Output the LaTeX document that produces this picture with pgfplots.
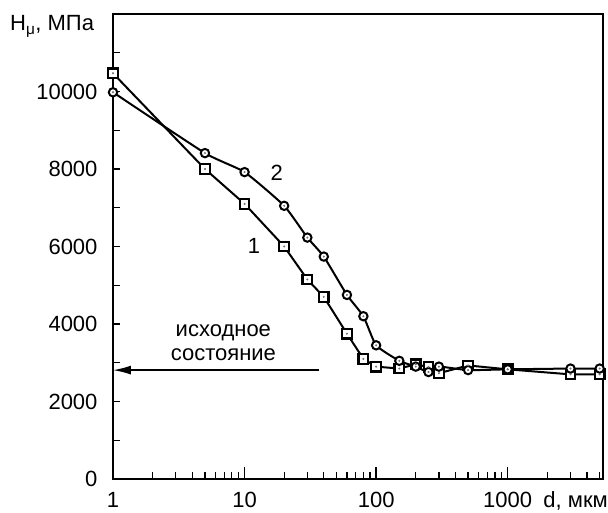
\documentclass[border=0pt]{standalone}
\usepackage{fontspec}
\setmainfont{Liberation Sans}
\usepackage{pgfplots}
\pgfplotsset{compat=1.18}
\usetikzlibrary{arrows.meta}
\begin{document}
\fontsize{22}{24}\selectfont
\begin{tikzpicture}
\pgfplotstableread{
x y
1 10470
5 8000
10 7100
20 6000
30 5150
40 4700
60 3750
80 3100
100 2900
150 2850
200 2960
250 2890
300 2730
500 2930
1000 2830
3000 2700
5000 2700
}\seriesone
\pgfplotstableread{
x y
1 9980
5 8410
10 7920
20 7050
30 6230
40 5740
60 4750
80 4200
100 3450
150 3050
200 2900
250 2760
300 2900
500 2810
1000 2830
3000 2850
5000 2850
}\seriestwo
\begin{axis}[
  scale only axis, width=490pt, height=465pt,
  xmode=log, xmin=1, xmax=5300, ymin=0, ymax=12000,
  clip=false,
  axis line style={line width=1.6pt},
  tick align=inside, xtick pos=bottom, ytick pos=left,
  xtick={1,10,100,1000}, xticklabels={1,10,100,1000},
  minor xtick={2,3,4,5,6,7,8,9,20,30,40,50,60,70,80,90,200,300,400,500,600,700,800,900,2000,3000,4000,5000},
  ytick={0,2000,4000,6000,8000,10000},
  yticklabels={0,2000,4000,6000,8000,10000},
  minor ytick={0,1000,2000,3000,4000,5000,6000,7000,8000,9000,10000,11000},
  major tick length=12pt, minor tick length=7pt,
  tick style={line width=1.3pt, black},
  major y tick style={draw=none},
  /pgf/number format/assume math mode=true,
  xticklabel style={inner sep=0pt, yshift=-13pt},
  yticklabel style={xshift=-8pt},
  every tick label/.append style={font=\fontsize{22}{24}\selectfont},
]
\coordinate (O) at (rel axis cs:0,0);
\addplot[line width=2pt, mark=square*, mark size=4.8pt,
  mark options={fill=white, line width=2.2pt}] table {\seriesone};
\addplot[line width=2pt, smooth, tension=0.3, mark=*, mark size=4.2pt,
  mark options={fill=white, line width=2pt}] table {\seriestwo};
\addplot[only marks, mark=*, mark size=0.8pt, black!55] table {\seriesone};
\addplot[only marks, mark=*, mark size=0.8pt, black!55] table {\seriestwo};
\node at (axis cs:11.8,6010) {1};
\node at (axis cs:17.6,7900) {2};
\node[align=center, font=\fontsize{22}{23.5}\selectfont] at (axis cs:6.9,3520) {исходное\\состояние};
\draw[line width=1.5pt, -{Latex[length=18pt,width=9pt]}] (axis cs:37,2810) -- (axis cs:1,2810);
\end{axis}
\node[anchor=base west, inner sep=0pt] at ([shift={(-103pt,448pt)}]O) {H\textsubscript{μ}, МПа};
\node[anchor=base east, inner sep=0pt] at ([shift={(495pt,-29pt)}]O) {d, мкм};
\pgfresetboundingbox
\path[use as bounding box] ([shift={(-113pt,-34pt)}]O) rectangle ++(608pt,513pt);
\end{tikzpicture}
\end{document}
